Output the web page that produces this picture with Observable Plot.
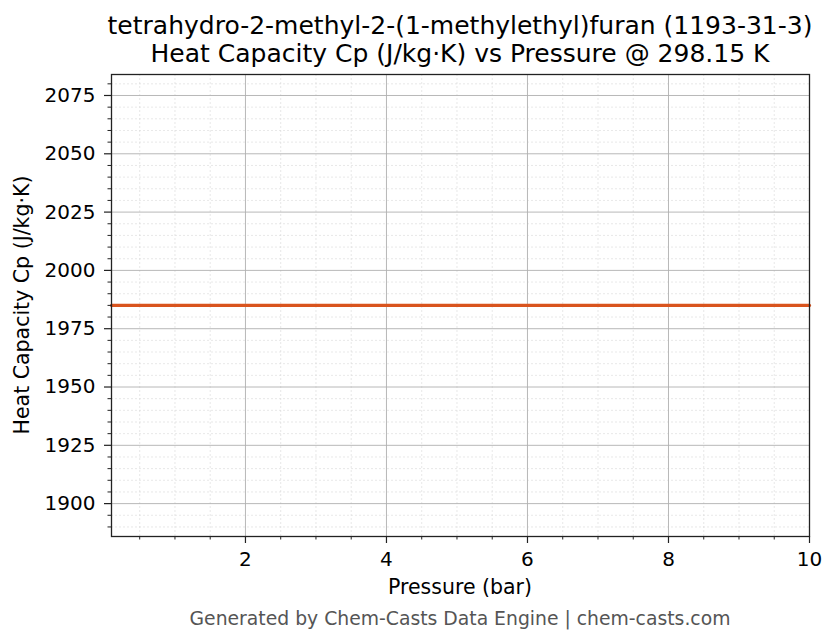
<!DOCTYPE html>
<html><head><meta charset="utf-8">
<script src="https://cdn.jsdelivr.net/npm/d3@7"></script>
<script src="https://cdn.jsdelivr.net/npm/@observablehq/plot@0.6"></script>
<style>
body{margin:0;background:#fff;font-family:"DejaVu Sans",sans-serif;}
#wrap{position:relative;width:836px;height:644px;overflow:hidden;}
.t{position:absolute;white-space:nowrap;color:#000;line-height:1.15;}
</style></head>
<body><div id="wrap"></div>
<script>
const titleLines = ["tetrahydro-2-methyl-2-(1-methylethyl)furan (1193-31-3)", "Heat Capacity Cp (J/kg·K) vs Pressure @ 298.15 K"];
const xLabel = "Pressure (bar)";
const yLabel = "Heat Capacity Cp (J/kg·K)";
const caption = "Generated by Chem-Casts Data Engine | chem-casts.com";
const pressure = [0.1, 1, 2, 3, 4, 5, 6, 7, 8, 9, 10];
const cp = [1985, 1985, 1985, 1985, 1985, 1985, 1985, 1985, 1985, 1985, 1985];
const xTicks = [2, 4, 6, 8, 10];
const xMinor = [0.5, 1, 1.5, 2.5, 3, 3.5, 4.5, 5, 5.5, 6.5, 7, 7.5, 8.5, 9, 9.5];
const yTicks = [1900, 1925, 1950, 1975, 2000, 2025, 2050, 2075];
const yMinor = [1890, 1895, 1905, 1910, 1915, 1920, 1930, 1935, 1940, 1945, 1955, 1960, 1965, 1970, 1980, 1985, 1990, 1995, 2005, 2010, 2015, 2020, 2030, 2035, 2040, 2045, 2055, 2060, 2065, 2070, 2080];
const xDomain = [0.1, 10];
const yDomain = [1885.9, 2084];

const data = pressure.map((p, i) => ({p, v: cp[i]}));
const fs = 20;
const fmt = d3.format("d");
const chart = Plot.plot({
  width: 836, height: 644,
  marginLeft: 111, marginRight: 27, marginTop: 74, marginBottom: 108,
  style: {fontFamily: "DejaVu Sans", fontSize: fs + "px", background: "white", overflow: "visible"},
  x: {domain: xDomain, label: null},
  y: {domain: yDomain, label: null},
  marks: [
    Plot.gridX(xMinor, {stroke: "#d8d8d8", strokeOpacity: 1, strokeWidth: 0.6, strokeDasharray: "2,2"}),
    Plot.gridY(yMinor, {stroke: "#d8d8d8", strokeOpacity: 1, strokeWidth: 0.6, strokeDasharray: "2,2"}),
    Plot.gridX(xTicks, {stroke: "#b0b0b0", strokeOpacity: 1, strokeWidth: 0.9}),
    Plot.gridY(yTicks, {stroke: "#b0b0b0", strokeOpacity: 1, strokeWidth: 0.9}),
    Plot.line(data, {x: "p", y: "v", stroke: "#d9541e", strokeWidth: 3.2}),
    Plot.axisX(xMinor, {tickSize: 3.5, text: null, stroke: "#222", strokeWidth: 1, label: null}),
    Plot.axisY(yMinor, {tickSize: 3.5, text: null, stroke: "#222", strokeWidth: 1, label: null}),
    Plot.axisX(xTicks, {tickSize: 7, tickPadding: 8, tickFormat: fmt, stroke: "#222", strokeWidth: 1.2, fill: "#000", label: null, fontSize: fs}),
    Plot.axisY(yTicks, {tickSize: 7, tickPadding: 9, tickFormat: fmt, stroke: "#222", strokeWidth: 1.2, fill: "#000", label: null, fontSize: fs}),
    Plot.frame({stroke: "#222", strokeWidth: 1.3})
  ]
});
const wrap = document.getElementById("wrap");
wrap.appendChild(chart);
function addText(txt, css) {
  const d = document.createElement("div");
  d.className = "t"; d.textContent = txt;
  Object.assign(d.style, css);
  wrap.appendChild(d);
  return d;
}
addText(titleLines[0], {left: "460px", top: "12px", transform: "translateX(-50%)", fontSize: "25px"});
addText(titleLines[1], {left: "460px", top: "40px", transform: "translateX(-50%)", fontSize: "25px"});
addText(xLabel, {left: "460px", top: "576px", transform: "translateX(-50%)", fontSize: "20.5px"});
addText(yLabel, {left: "23px", top: "305px", transform: "translate(-50%,-50%) rotate(-90deg)", fontSize: "20.5px"});
addText(caption, {left: "460px", top: "608px", transform: "translateX(-50%)", fontSize: "18.8px", color: "#555"});
</script></body></html>
